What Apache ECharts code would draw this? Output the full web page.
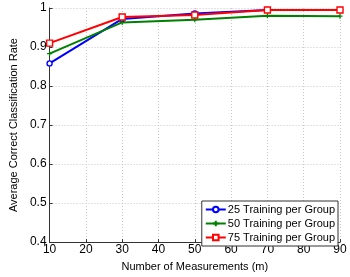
<!DOCTYPE html>
<html><head><meta charset="utf-8">
<script src="https://cdn.jsdelivr.net/npm/echarts@6/dist/echarts.min.js"></script>
<style>html,body{margin:0;padding:0;background:#fff}#c{width:350px;height:277px}</style>
</head><body><div id="c"></div>
<script>
const measurements = [10, 30, 50, 70, 90];
const train25 = [0.858, 0.972, 0.986, 0.995, 0.995];
const train50 = [0.883, 0.963, 0.970, 0.980, 0.979];
const train75 = [0.910, 0.977, 0.982, 0.995, 0.995];
const seriesNames = ['25 Training per Group', '50 Training per Group', '75 Training per Group'];
const xTicks = [10, 20, 30, 40, 50, 60, 70, 80, 90];
const yTicks = [0.4, 0.5, 0.6, 0.7, 0.8, 0.9, 1];

const font = 'Liberation Sans, Arial, sans-serif';
const pair = (arr) => measurements.map((m, i) => [m, arr[i]]);
const chart = echarts.init(document.getElementById('c'), null, {renderer: 'canvas'});
chart.setOption({
  animation: false,
  grid: {left: 35, right: 10, top: 8, bottom: 28, show: false},
  xAxis: {
    type: 'value', min: 10, max: 90, interval: 10,
    name: 'Number of Measurements (m)', nameLocation: 'middle', nameGap: 15,
    nameTextStyle: {fontFamily: font, fontSize: 11, color: '#000'},
    axisLine: {show: true, onZero: false, lineStyle: {color: '#333', width: 1}},
    axisTick: {show: true, inside: true, length: 3, lineStyle: {color: '#333'}},
    axisLabel: {fontFamily: font, fontSize: 12, color: '#000', margin: 2,
      formatter: v => xTicks.includes(v) ? String(v) : ''},
    splitLine: {show: true, lineStyle: {color: '#c8c8c8', type: [1, 2], width: 1}}
  },
  yAxis: {
    type: 'value', min: 0.4, max: 1, interval: 0.1,
    name: 'Average Correct Classification Rate', nameLocation: 'middle', nameGap: 27,
    nameTextStyle: {fontFamily: font, fontSize: 11, color: '#000'},
    axisLine: {show: true, lineStyle: {color: '#333', width: 1}},
    axisTick: {show: true, inside: true, length: 3, lineStyle: {color: '#333'}},
    axisLabel: {fontFamily: font, fontSize: 12, color: '#000', margin: 3,
      formatter: v => { const r = Math.round(v * 10) / 10; return yTicks.includes(r) ? (r === 1 ? '1' : r.toFixed(1)) : ''; }},
    splitLine: {show: true, lineStyle: {color: '#c8c8c8', type: [1, 2], width: 1}}
  },
  legend: {
    right: 12, bottom: 31, orient: 'vertical',
    backgroundColor: '#fff', borderColor: '#333', borderWidth: 1,
    padding: [2, 3, 2, 3], itemGap: 1, itemWidth: 20, itemHeight: 7,
    textStyle: {fontFamily: font, fontSize: 11, color: '#000', padding: [0, 0, 0, -3], lineHeight: 13},
    data: seriesNames
  },
  series: [
    {name: seriesNames[0], type: 'line', data: pair(train25), color: '#0000ff',
     lineStyle: {width: 2, color: '#0000ff'}, symbol: 'circle', symbolSize: 5,
     itemStyle: {color: '#fff', borderColor: '#0000ff', borderWidth: 1.4}},
    {name: seriesNames[1], type: 'line', data: pair(train50), color: '#008000',
     lineStyle: {width: 2, color: '#008000'}, symbol: 'path://M0,-5L0,5M-5,0L5,0', symbolSize: 5,
     itemStyle: {color: '#008000', borderColor: '#008000', borderWidth: 1.2}},
    {name: seriesNames[2], type: 'line', data: pair(train75), color: '#ff0000',
     lineStyle: {width: 2, color: '#ff0000'}, symbol: 'rect', symbolSize: 6,
     itemStyle: {color: '#fff', borderColor: '#ff0000', borderWidth: 1.4}}
  ]
});
</script></body></html>
